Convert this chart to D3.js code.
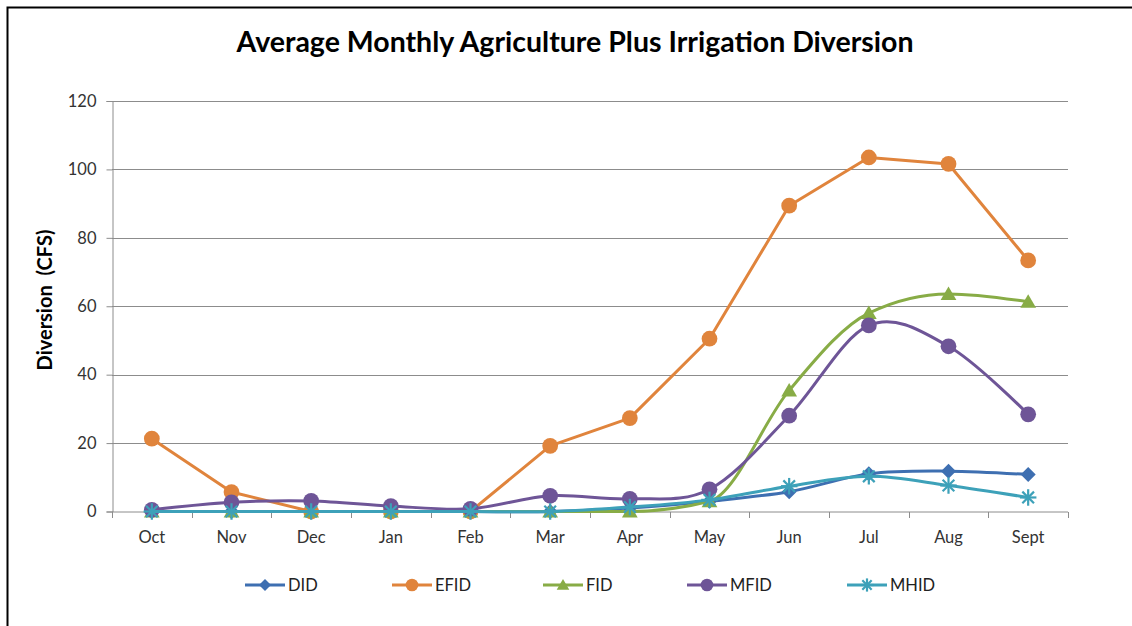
<!DOCTYPE html>
<html>
<head>
<meta charset="utf-8">
<script src="https://cdn.jsdelivr.net/npm/d3@7"></script>
<style>
  body { margin: 0; background: #fff; }
  svg { display: block; font-family: Lato, "Open Sans", sans-serif; }
</style>
</head>
<body>
<svg id="chart"></svg>
<script>
// data
const months = ["Oct", "Nov", "Dec", "Jan", "Feb", "Mar", "Apr", "May", "Jun", "Jul", "Aug", "Sept"]
const yTicks = [0, 20, 40, 60, 80, 100, 120]
const did = [0, 0, 0, 0, 0, 0, 1, 3, 5.8, 11, 11.8, 10.8]
const efid = [21.3, 5.7, 0, 0, 0, 19.2, 27.3, 50.5, 89.4, 103.5, 101.6, 73.4]
const fid = [0, 0, 0, 0, 0, 0, 0, 3, 35.4, 58, 63.6, 61.3]
const mfid = [0.5, 2.7, 3.1, 1.6, 0.8, 4.6, 3.7, 6.5, 28, 54.4, 48.3, 28.4]
const mhid = [0, 0, 0, 0, 0, 0, 1.3, 3.4, 7.4, 10.3, 7.6, 4.1]

const series = [
  { name: "DID", values: did, color: "#3E6FB1", marker: "diamond", curve: d3.curveCardinal.tension(0) },
  { name: "EFID", values: efid, color: "#E0843C", marker: "circle", curve: d3.curveLinear },
  { name: "FID", values: fid, color: "#88AC46", marker: "triangle", curve: d3.curveMonotoneX },
  { name: "MFID", values: mfid, color: "#6E5597", marker: "circle", curve: d3.curveCardinal.tension(0) },
  { name: "MHID", values: mhid, color: "#3DA1B9", marker: "star", curve: d3.curveCardinal.tension(0) }
]

const width = 1132
const height = 626
const svg = d3.select("#chart").attr("width", width).attr("height", height)

// frame
svg.append("rect").attr("x", 7.5).attr("y", 7.5).attr("width", 1140).attr("height", 640)
  .attr("fill", "none").attr("stroke", "#000").attr("stroke-width", 2)

// scales
const x = d3.scalePoint().domain(months).range([112, 1068]).padding(0.5)
const y = d3.scaleLinear().domain([0, 120]).range([511.5, 101])

// title
svg.append("text").attr("x", 575).attr("y", 52).attr("text-anchor", "middle")
  .style("font-size", "28.5px").style("font-weight", "bold").style("fill", "#000")
  .text("Average Monthly Agriculture Plus Irrigation Diversion")

// y label
svg.append("text").attr("transform", "translate(52,300) rotate(-90)").attr("text-anchor", "middle")
  .style("font-size", "20px").style("font-weight", "bold").style("fill", "#000")
  .attr("xml:space", "preserve")
  .text("Diversion  (CFS)")

// gridlines
svg.append("g").selectAll("line").data(yTicks.slice(1)).join("line")
  .attr("x1", 112).attr("x2", 1068)
  .attr("y1", (d) => Math.round(y(d)) + 0.5).attr("y2", (d) => Math.round(y(d)) + 0.5)
  .attr("stroke", "#8c8c8c").attr("stroke-width", 1)

// y axis
const yAxis = d3.axisLeft(y).tickValues(yTicks).tickSize(6).tickPadding(10)
const yg = svg.append("g").attr("transform", "translate(112.5,0)").call(yAxis)
yg.select(".domain").attr("stroke", "#8c8c8c")
yg.selectAll(".tick line").attr("stroke", "#8c8c8c")
yg.selectAll(".tick text").style("font-size", "16.5px").style("fill", "#333").style("font-family", "Lato, sans-serif")

// x axis (ticks between categories)
const step = x.step()
const boundaries = d3.range(months.length + 1).map((i) => 112 + i * step)
const xg = svg.append("g")
xg.append("line").attr("x1", 112).attr("x2", 1068).attr("y1", 512).attr("y2", 512).attr("stroke", "#8c8c8c")
xg.selectAll(".bt").data(boundaries).join("line").attr("class", "bt")
  .attr("x1", (d) => Math.round(d) + 0.5).attr("x2", (d) => Math.round(d) + 0.5)
  .attr("y1", 512).attr("y2", 518).attr("stroke", "#8c8c8c")
xg.selectAll("text").data(months).join("text")
  .attr("x", (d) => x(d)).attr("y", 543).attr("text-anchor", "middle")
  .style("font-size", "16.5px").style("fill", "#333")
  .text((d) => d)

// markers
function drawMarker(g, type, color, size) {
  const h = size / 2
  if (type === "circle") {
    g.append("circle").attr("r", h * 1.05).attr("fill", color)
  } else if (type === "diamond") {
    g.append("path").attr("d", `M0,${-h}L${h},0L0,${h}L${-h},0Z`).attr("fill", color)
  } else if (type === "triangle") {
    g.append("path").attr("d", `M0,${-h}L${h * 1.05},${h * 0.8}L${-h * 1.05},${h * 0.8}Z`).attr("fill", color)
  } else if (type === "star") {
    const r = h * 1.1
    d3.range(4).forEach((i) => {
      const a = (i * Math.PI) / 4
      g.append("line")
        .attr("x1", -r * Math.cos(a)).attr("y1", -r * Math.sin(a))
        .attr("x2", r * Math.cos(a)).attr("y2", r * Math.sin(a))
        .attr("stroke", color).attr("stroke-width", 2.2)
    })
  }
}

// lines
const plot = svg.append("g")
series.forEach((s) => {
  const line = d3.line()
    .x((d, i) => x(months[i]))
    .y((d) => y(d))
    .curve(s.curve)
  plot.append("path").datum(s.values).attr("d", line)
    .attr("fill", "none").attr("stroke", s.color).attr("stroke-width", 3)
    .attr("stroke-linejoin", "round")
  s.values.forEach((v, i) => {
    const g = plot.append("g").attr("transform", `translate(${x(months[i])},${y(v)})`)
    drawMarker(g, s.marker, s.color, 15)
  })
})

// legend
const legendX = [245, 392, 543, 687, 847]
const legend = svg.append("g")
series.forEach((s, i) => {
  const g = legend.append("g").attr("transform", `translate(${legendX[i]},585)`)
  g.append("line").attr("x1", 0).attr("x2", 40).attr("stroke", s.color).attr("stroke-width", 3)
  const m = g.append("g").attr("transform", "translate(20,0)")
  drawMarker(m, s.marker, s.color, 12)
  g.append("text").attr("x", 43).attr("y", 6).style("font-size", "16.5px").style("fill", "#222").text(s.name)
})
</script>
</body>
</html>
